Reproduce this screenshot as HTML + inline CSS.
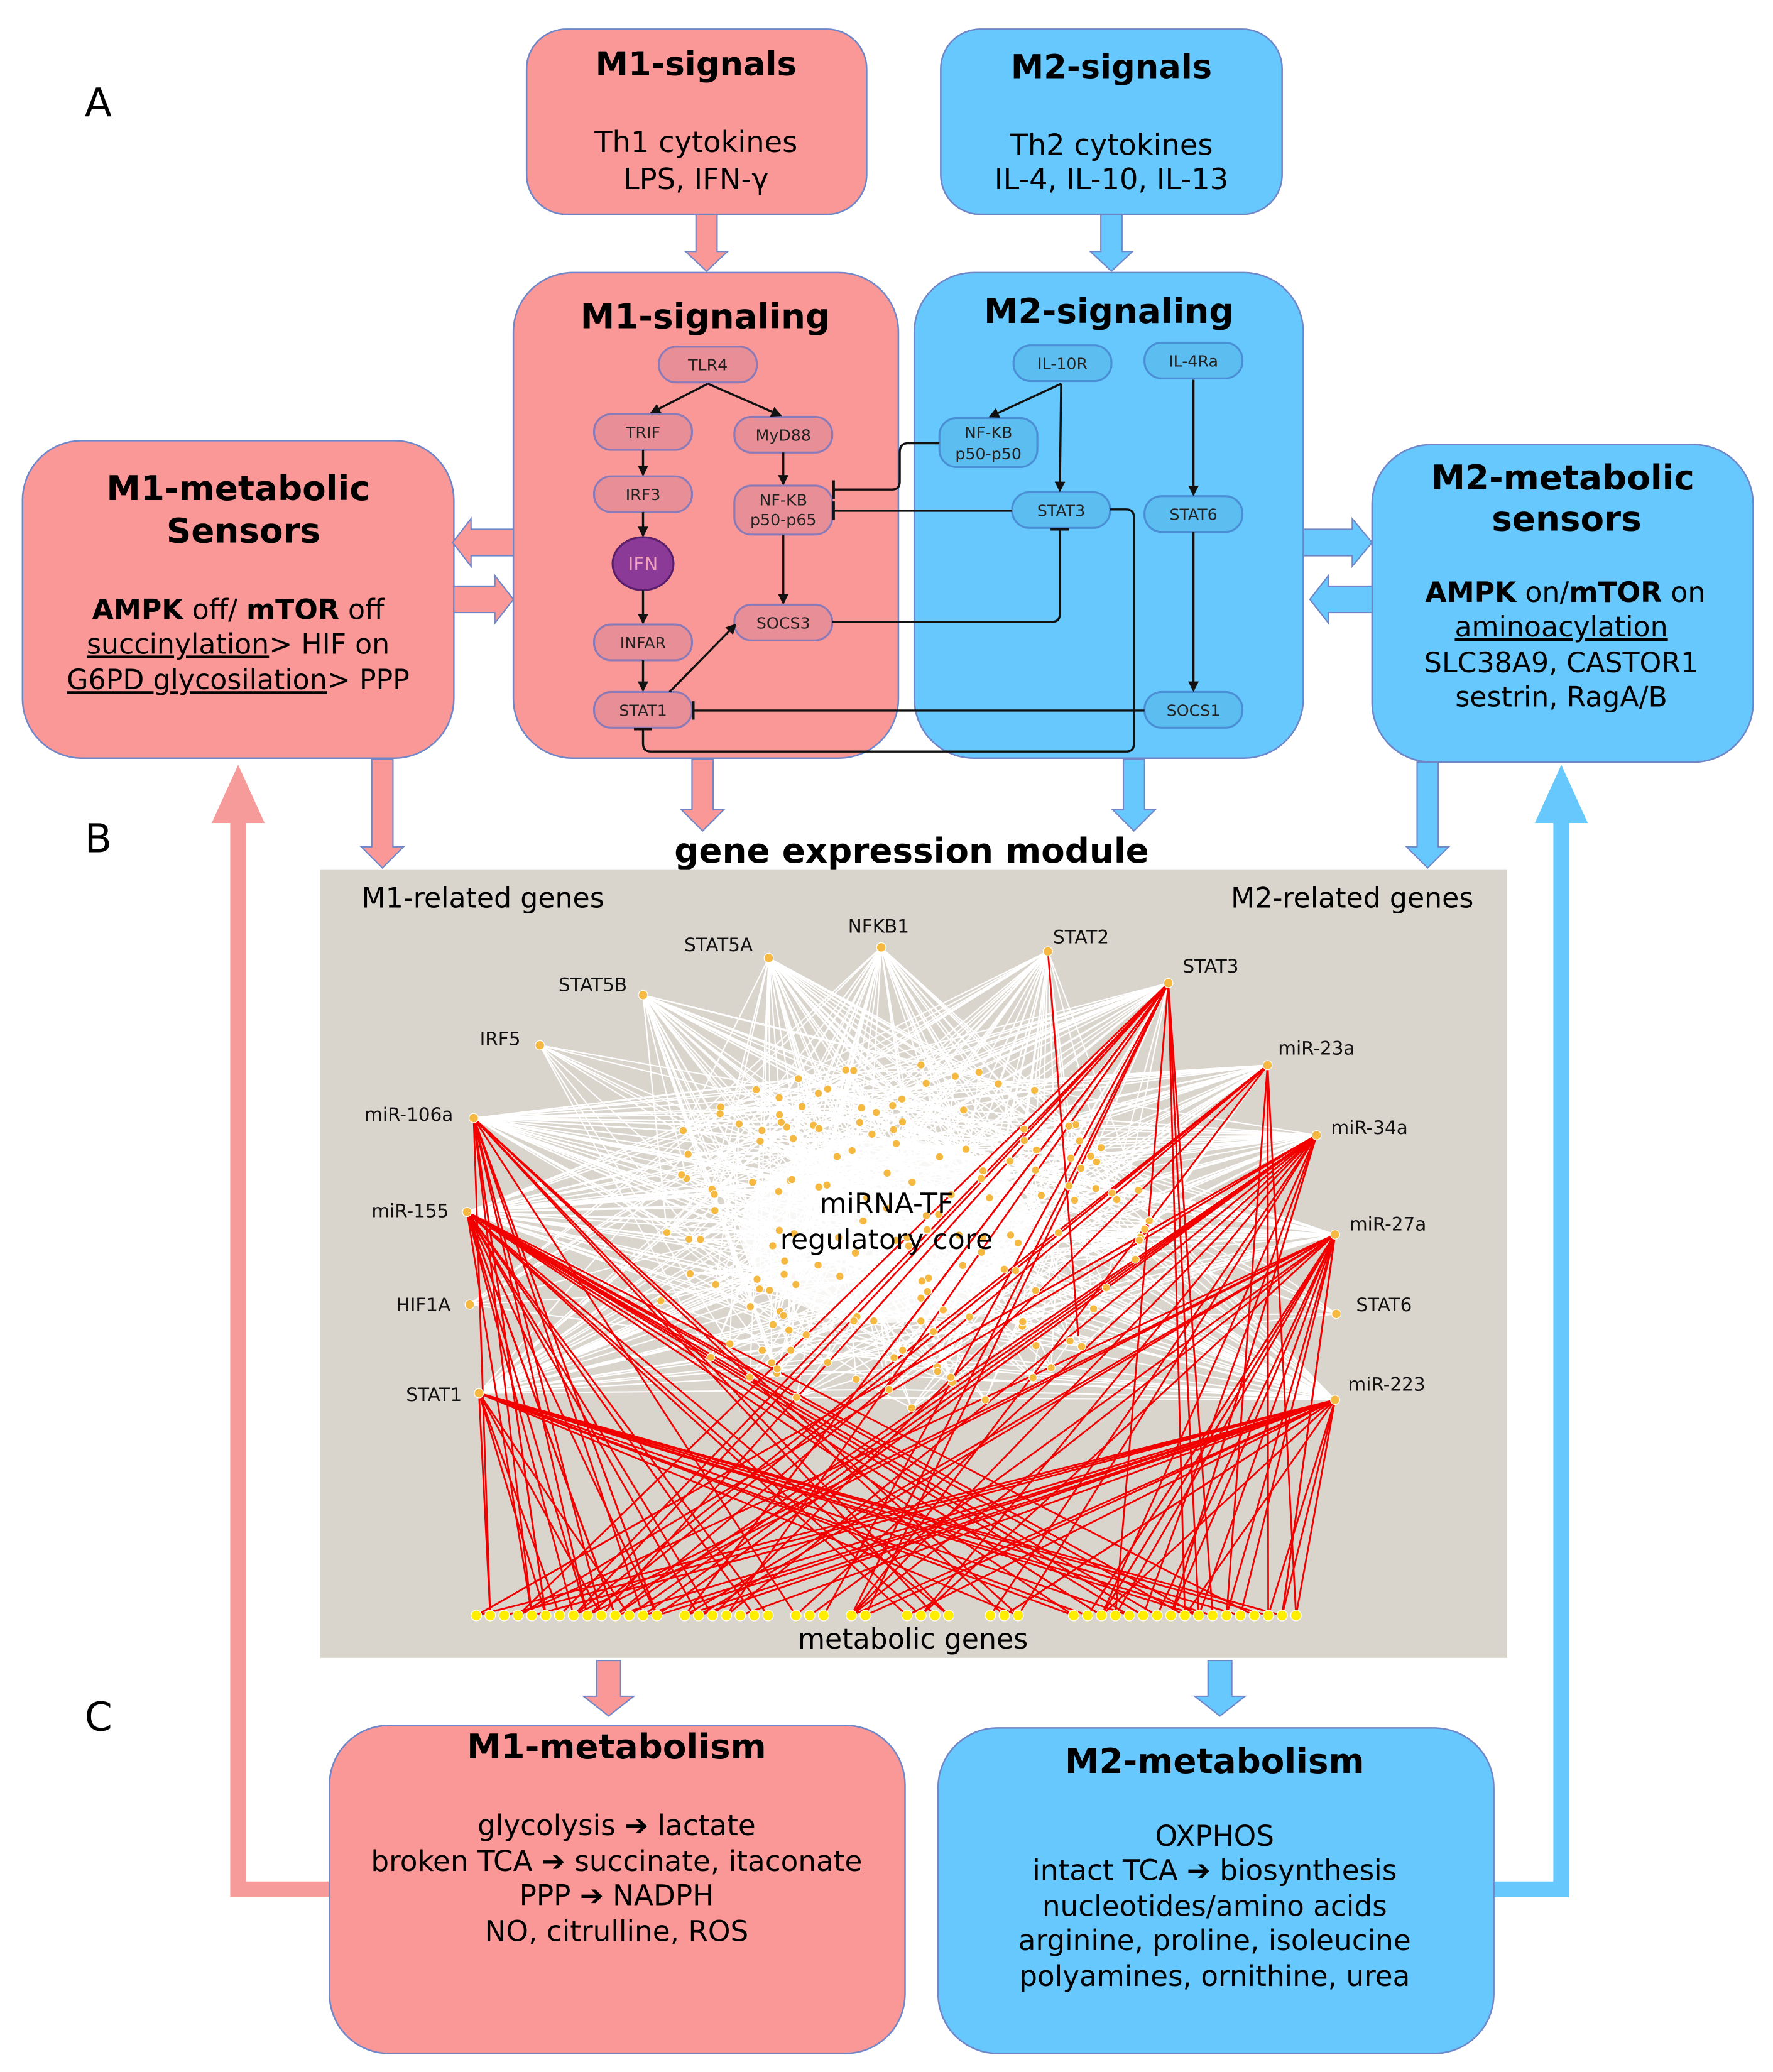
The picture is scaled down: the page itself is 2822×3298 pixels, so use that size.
<!DOCTYPE html>
<html><head><meta charset="utf-8">
<style>
html,body{margin:0;padding:0;background:#fff;}
svg{display:block;}
text{font-family:"DejaVu Sans","Liberation Sans",sans-serif;}
</style></head><body>
<svg id="s" width="2822" height="3298" viewBox="0 0 1340 1566" xmlns="http://www.w3.org/2000/svg">
<defs>
<marker id="ah" markerWidth="8" markerHeight="8" refX="7" refY="4" orient="auto" markerUnits="userSpaceOnUse"><path d="M0,0 L8,4 L0,8 z" fill="#111"/></marker>
<marker id="tb" markerWidth="2" markerHeight="14" refX="1" refY="7" orient="auto" markerUnits="userSpaceOnUse"><rect x="0" y="0" width="2" height="14" fill="#111"/></marker>
</defs>
<rect width="1340" height="1566" fill="#fff"/>
<text x="64" y="88" font-size="30" font-family="Liberation Sans">A</text>
<text x="64" y="644" font-size="30" font-family="Liberation Sans">B</text>
<text x="64" y="1308" font-size="30" font-family="Liberation Sans">C</text>

<path d="M249,1428 H180 V620" fill="none" stroke="#f79a9a" stroke-width="12"/>
<polygon points="160,622 200,622 180,578" fill="#f79a9a"/>
<path d="M1129,1428 H1180 V620" fill="none" stroke="#66c8fc" stroke-width="12"/>
<polygon points="1160,622 1200,622 1180,578" fill="#66c8fc"/>

<rect x="398" y="22" width="257" height="140" rx="30" fill="#fa9898" stroke="#6f86c8" stroke-width="1.2"/>
<text x="526" y="57" font-size="25" font-weight="bold" text-anchor="middle">M1-signals</text>
<text x="526" y="115" font-size="22" text-anchor="middle">Th1 cytokines</text>
<text x="526" y="143" font-size="22" text-anchor="middle">LPS, IFN-γ</text>
<rect x="711" y="22" width="258" height="140" rx="30" fill="#66c8fc" stroke="#6f86c8" stroke-width="1.2"/>
<text x="840" y="59" font-size="25" font-weight="bold" text-anchor="middle">M2-signals</text>
<text x="840" y="117" font-size="22" text-anchor="middle">Th2 cytokines</text>
<text x="840" y="143" font-size="22" text-anchor="middle">IL-4, IL-10, IL-13</text>

<g stroke="#6f86c8" stroke-width="1">
<polygon points="526,162 542,162 542,190 550,190 534,205 518,190 526,190" fill="#fa9898"/>
<polygon points="832,162 848,162 848,190 856,190 840,205 824,190 832,190" fill="#66c8fc"/>
</g>

<rect x="388" y="206" width="291" height="367" rx="45" fill="#fa9898" stroke="#6f86c8" stroke-width="1.2"/>
<rect x="691" y="206" width="294" height="367" rx="45" fill="#66c8fc" stroke="#6f86c8" stroke-width="1.2"/>
<text x="533" y="248" font-size="26" font-weight="bold" text-anchor="middle">M1-signaling</text>
<text x="838" y="244" font-size="26" font-weight="bold" text-anchor="middle">M2-signaling</text>

<g font-size="12" text-anchor="middle" stroke-width="1.5">
<g fill="#e88e96" stroke="#8a7bb8">
<rect x="498" y="262" width="74" height="27" rx="13"/>
<rect x="449" y="313" width="74" height="27" rx="13"/>
<rect x="555" y="315" width="74" height="27" rx="13"/>
<rect x="449" y="360" width="74" height="27" rx="13"/>
<rect x="555" y="367" width="74" height="37" rx="13"/>
<rect x="449" y="472" width="74" height="27" rx="13"/>
<rect x="555" y="457" width="74" height="27" rx="13"/>
<rect x="449" y="523" width="74" height="27" rx="13"/>
</g>
<ellipse cx="486" cy="426" rx="23" ry="20" fill="#8b3a97" stroke="#5a1f6a"/>
<g fill="#5cbdf0" stroke="#4a8fd6">
<rect x="766" y="261" width="74" height="27" rx="13"/>
<rect x="865" y="259" width="74" height="27" rx="13"/>
<rect x="710" y="316" width="74" height="37" rx="13"/>
<rect x="765" y="372" width="74" height="27" rx="13"/>
<rect x="865" y="375" width="74" height="27" rx="13"/>
<rect x="865" y="523" width="74" height="27" rx="13"/>
</g>
<g fill="#222" stroke="none" font-family="Liberation Sans">
<text x="535" y="280">TLR4</text>
<text x="486" y="331">TRIF</text>
<text x="592" y="333">MyD88</text>
<text x="486" y="378">IRF3</text>
<text x="592" y="382">NF-KB</text>
<text x="592" y="397">p50-p65</text>
<text x="486" y="490">INFAR</text>
<text x="592" y="475">SOCS3</text>
<text x="486" y="541">STAT1</text>
<text x="803" y="279">IL-10R</text>
<text x="902" y="277">IL-4Ra</text>
<text x="747" y="331">NF-KB</text>
<text x="747" y="347">p50-p50</text>
<text x="802" y="390">STAT3</text>
<text x="902" y="393">STAT6</text>
<text x="902" y="541">SOCS1</text>
</g>
<text x="486" y="431" fill="#f2a0c0" stroke="none" font-size="14">IFN</text>
</g>

<g fill="none" stroke="#111" stroke-width="1.6">
<path d="M535,290 L492,312" marker-end="url(#ah)"/>
<path d="M535,290 L590,314" marker-end="url(#ah)"/>
<path d="M486,340 V359" marker-end="url(#ah)"/>
<path d="M486,387 V405" marker-end="url(#ah)"/>
<path d="M486,446 V471" marker-end="url(#ah)"/>
<path d="M486,499 V522" marker-end="url(#ah)"/>
<path d="M592,342 V366" marker-end="url(#ah)"/>
<path d="M592,404 V456" marker-end="url(#ah)"/>
<path d="M506,523 L556,472" marker-end="url(#ah)"/>
<path d="M802,290 L748,315" marker-end="url(#ah)"/>
<path d="M802,290 L801,371" marker-end="url(#ah)"/>
<path d="M902,287 V374" marker-end="url(#ah)"/>
<path d="M902,402 V522" marker-end="url(#ah)"/>
<path d="M710,335 H686 Q680,335 680,342 V364 Q680,370 674,370 H630" marker-end="url(#tb)"/>
<path d="M765,386 H630" marker-end="url(#tb)"/>
<path d="M629,470 H795 Q801,470 801,464 V400" marker-end="url(#tb)"/>
<path d="M865,537 H524" marker-end="url(#tb)"/>
<path d="M839,385 H851 Q857,385 857,391 V562 Q857,568 851,568 H492 Q486,568 486,562 V551" marker-end="url(#tb)"/>
</g>

<rect x="17" y="333" width="326" height="240" rx="45" fill="#fa9898" stroke="#6f86c8" stroke-width="1.2"/>
<text x="180" y="378" font-size="26" font-weight="bold" text-anchor="middle">M1-metabolic</text>
<text x="184" y="410" font-size="26" font-weight="bold" text-anchor="middle">Sensors</text>
<text x="180" y="468" font-size="21" text-anchor="middle"><tspan font-weight="bold">AMPK</tspan> off/ <tspan font-weight="bold">mTOR</tspan> off</text>
<text x="180" y="494" font-size="21" text-anchor="middle"><tspan text-decoration="underline">succinylation</tspan>&gt; HIF on</text>
<text x="180" y="521" font-size="21" text-anchor="middle"><tspan text-decoration="underline">G6PD glycosilation</tspan>&gt; PPP</text>
<rect x="1037" y="336" width="288" height="240" rx="45" fill="#66c8fc" stroke="#6f86c8" stroke-width="1.2"/>
<text x="1181" y="370" font-size="26" font-weight="bold" text-anchor="middle">M2-metabolic</text>
<text x="1184" y="401" font-size="26" font-weight="bold" text-anchor="middle">sensors</text>
<text x="1183" y="455" font-size="21" text-anchor="middle"><tspan font-weight="bold">AMPK</tspan> on/<tspan font-weight="bold">mTOR</tspan> on</text>
<text x="1180" y="481" font-size="21" text-anchor="middle" text-decoration="underline">aminoacylation</text>
<text x="1180" y="508" font-size="21" text-anchor="middle">SLC38A9, CASTOR1</text>
<text x="1180" y="534" font-size="21" text-anchor="middle">sestrin, RagA/B</text>

<g stroke="#6f86c8" stroke-width="1">
<polygon points="388,400 356,400 356,392 342,410 356,428 356,420 388,420" fill="#fa9898"/>
<polygon points="343,443 374,443 374,435 388,453 374,471 374,463 343,463" fill="#fa9898"/>
<polygon points="985,400 1022,400 1022,392 1037,410 1022,428 1022,420 985,420" fill="#66c8fc"/>
<polygon points="1037,443 1004,443 1004,435 990,453 1004,471 1004,463 1037,463" fill="#66c8fc"/>
<polygon points="281,574 297,574 297,640 305,640 289,656 273,640 281,640" fill="#fa9898"/>
<polygon points="523,574 539,574 539,612 547,612 531,628 515,612 523,612" fill="#fa9898"/>
<polygon points="849,574 865,574 865,612 873,612 857,628 841,612 849,612" fill="#66c8fc"/>
<polygon points="1071,576 1087,576 1087,640 1095,640 1079,656 1063,640 1071,640" fill="#66c8fc"/>
<polygon points="451,1255 469,1255 469,1282 479,1282 460,1297 441,1282 451,1282" fill="#fa9898"/>
<polygon points="913,1255 931,1255 931,1282 941,1282 922,1297 903,1282 913,1282" fill="#66c8fc"/>
</g>

<text x="689" y="652" font-size="26" font-weight="bold" text-anchor="middle">gene expression module</text>

<rect x="242" y="657" width="897" height="596" fill="#d9d4cc"/>
<g id="net"></g>
<text x="365" y="686" font-size="21" text-anchor="middle">M1-related genes</text>
<text x="1022" y="686" font-size="21" text-anchor="middle">M2-related genes</text>
<text x="670" y="917" font-size="21" text-anchor="middle">miRNA-TF</text>
<text x="670" y="944" font-size="21" text-anchor="middle">regulatory core</text>
<text x="690" y="1246" font-size="21" text-anchor="middle">metabolic genes</text>
<g font-size="14" fill="#111" font-family="Liberation Sans">
<text x="664" y="705" text-anchor="middle">NFKB1</text>
<text x="543" y="719" text-anchor="middle">STAT5A</text>
<text x="448" y="749" text-anchor="middle">STAT5B</text>
<text x="378" y="790" text-anchor="middle">IRF5</text>
<text x="309" y="847" text-anchor="middle">miR-106a</text>
<text x="310" y="920" text-anchor="middle">miR-155</text>
<text x="320" y="991" text-anchor="middle">HIF1A</text>
<text x="328" y="1059" text-anchor="middle">STAT1</text>
<text x="817" y="713" text-anchor="middle">STAT2</text>
<text x="915" y="735" text-anchor="middle">STAT3</text>
<text x="995" y="797" text-anchor="middle">miR-23a</text>
<text x="1035" y="857" text-anchor="middle">miR-34a</text>
<text x="1049" y="930" text-anchor="middle">miR-27a</text>
<text x="1046" y="991" text-anchor="middle">STAT6</text>
<text x="1048" y="1051" text-anchor="middle">miR-223</text>
</g>

<rect x="249" y="1304" width="435" height="248" rx="45" fill="#fa9898" stroke="#6f86c8" stroke-width="1.2"/>
<text x="466" y="1329" font-size="26" font-weight="bold" text-anchor="middle">M1-metabolism</text>
<g font-size="21.5" text-anchor="middle">
<text x="466" y="1387">glycolysis ➔ lactate</text>
<text x="466" y="1414">broken TCA ➔ succinate, itaconate</text>
<text x="466" y="1440">PPP ➔ NADPH</text>
<text x="466" y="1467">NO, citrulline, ROS</text>
</g>
<rect x="709" y="1306" width="420" height="246" rx="45" fill="#66c8fc" stroke="#6f86c8" stroke-width="1.2"/>
<text x="918" y="1340" font-size="26" font-weight="bold" text-anchor="middle">M2-metabolism</text>
<g font-size="21.5" text-anchor="middle">
<text x="918" y="1395">OXPHOS</text>
<text x="918" y="1421">intact TCA ➔ biosynthesis</text>
<text x="918" y="1448">nucleotides/amino acids</text>
<text x="918" y="1474">arginine, proline, isoleucine</text>
<text x="918" y="1501">polyamines, ornithine, urea</text>
</g>
</svg>
<script>
(function(){
var seed=7;function r(){seed=(seed*16807)%2147483647;return (seed-1)/2147483646;}
var NS="http://www.w3.org/2000/svg",g=document.getElementById("net");
function L(a,b,c,w){var e=document.createElementNS(NS,"line");e.setAttribute("x1",a[0]);e.setAttribute("y1",a[1]);e.setAttribute("x2",b[0]);e.setAttribute("y2",b[1]);e.setAttribute("stroke",c);e.setAttribute("stroke-width",w);g.appendChild(e);}
function C(p,rad,f){var e=document.createElementNS(NS,"circle");e.setAttribute("cx",p[0]);e.setAttribute("cy",p[1]);e.setAttribute("r",rad);e.setAttribute("fill",f);e.setAttribute("stroke","#fff");e.setAttribute("stroke-width",0.6);g.appendChild(e);}
var hubs={NFKB1:[666,716],STAT5A:[581,724],STAT5B:[486,752],IRF5:[408,790],m106:[358,845],m155:[353,916],HIF1A:[355,986],STAT1:[362,1053],STAT2:[792,719],STAT3:[883,743],m23:[958,805],m34:[995,858],m27:[1009,933],STAT6:[1010,993],m223:[1009,1058]};
var core=[];for(var i=0;i<170;i++){var a=r()*6.283,d=Math.sqrt(r());core.push([670+Math.cos(a)*d*200,935+Math.sin(a)*d*135]);}
var met=[];for(var x=360;x<=985;x+=10.5){if(r()<0.85)met.push([x,1221]);}
var k;
// white core mesh
for(i=0;i<260;i++)L(core[Math.floor(r()*170)],core[Math.floor(r()*170)],"#fff",1);
for(k in hubs){var n=k=="HIF1A"||k=="STAT6"?8:(k=="IRF5"?10:40);for(i=0;i<n;i++)L(hubs[k],core[Math.floor(r()*core.length)],"#fff",1);}
// dense white blob center
var blob=document.createElementNS(NS,"ellipse");blob.setAttribute("cx",670);blob.setAttribute("cy",930);blob.setAttribute("rx",110);blob.setAttribute("ry",70);blob.setAttribute("fill","#fff");blob.setAttribute("opacity","0.8");g.appendChild(blob);
var redH=["m106","m155","STAT1","STAT3","m23","m34","m27","m223","STAT2"],cnt={m106:14,m155:26,STAT1:14,STAT3:16,m23:9,m34:18,m27:20,m223:20,STAT2:1};
redH.forEach(function(k){for(var i=0;i<cnt[k];i++){var t=k=="STAT2"?[815,1010]:met[Math.floor(r()*met.length)];L(hubs[k],t,"#f20000",1.3);}});
core.forEach(function(p){C(p,3,"#f5b942");});
met.forEach(function(p){C(p,4,"#ffee00");});
for(k in hubs)C(hubs[k],3.5,"#f5b942");
})();
</script>
</body></html>
